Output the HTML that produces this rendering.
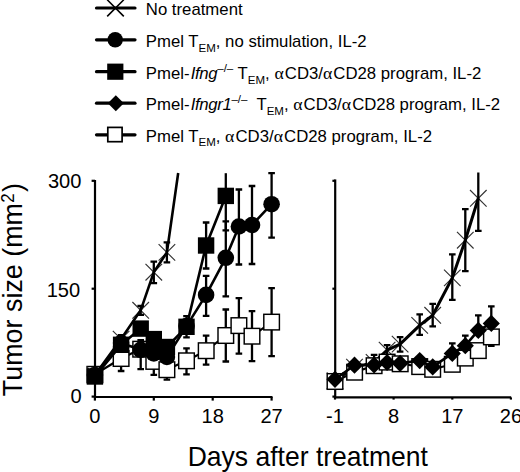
<!DOCTYPE html>
<html><head><meta charset="utf-8"><style>
html,body{margin:0;padding:0;background:#fff;width:520px;height:472px;overflow:hidden}
svg{display:block}
text{font-family:"Liberation Sans",sans-serif;fill:#000}
</style></head><body>
<svg width="520" height="472" viewBox="0 0 520 472">
<path d="M95 180V397.5" stroke="#000" stroke-width="2.2" fill="none"/>
<path d="M91.6 180.8H95" stroke="#000" stroke-width="2.2" fill="none"/>
<path d="M91.6 288.7H95" stroke="#000" stroke-width="2.2" fill="none"/>
<path d="M91.6 396.6H95" stroke="#000" stroke-width="2.2" fill="none"/>
<path d="M94 397H272.5" stroke="#000" stroke-width="2.2" fill="none"/>
<path d="M94.9 397V400.6" stroke="#000" stroke-width="2.2" fill="none"/>
<path d="M153.8 397V400.6" stroke="#000" stroke-width="2.2" fill="none"/>
<path d="M212.7 397V400.6" stroke="#000" stroke-width="2.2" fill="none"/>
<path d="M271.6 397V400.6" stroke="#000" stroke-width="2.2" fill="none"/>
<path d="M335.2 179.4V398" stroke="#000" stroke-width="2.2" fill="none"/>
<path d="M332.4 180.8H335" stroke="#000" stroke-width="2.2" fill="none"/>
<path d="M332.4 288.7H335" stroke="#000" stroke-width="2.2" fill="none"/>
<path d="M332.4 396.6H335" stroke="#000" stroke-width="2.2" fill="none"/>
<path d="M334.2 397.4H511.2" stroke="#000" stroke-width="2.2" fill="none"/>
<path d="M335.0 397.4V399.6" stroke="#000" stroke-width="2.2" fill="none"/>
<path d="M393.6 397.4V399.6" stroke="#000" stroke-width="2.2" fill="none"/>
<path d="M452.3 397.4V399.6" stroke="#000" stroke-width="2.2" fill="none"/>
<path d="M510.9 397.4V399.6" stroke="#000" stroke-width="2.2" fill="none"/>
<path d="M94.9 374.3L121.1 358.5L140.7 349.1L153.8 361.4L166.9 369.6L186.5 360.8L206.1 350.7L225.8 335.5L238.9 325.6L252.0 336.2L271.6 322.1" stroke="#000" stroke-width="2.2" fill="none" stroke-linejoin="round"/>

<path d="M121.1 358.5V371.0M117.8 371.0H124.4" stroke="#000" stroke-width="2.3" fill="none"/>
<path d="M140.7 349.1V340.1M137.4 340.1H144.0" stroke="#000" stroke-width="2.3" fill="none"/><path d="M140.7 349.1V369.1M137.4 369.1H144.0" stroke="#000" stroke-width="2.3" fill="none"/>
<path d="M153.8 361.4V374.9M150.5 374.9H157.1" stroke="#000" stroke-width="2.3" fill="none"/>
<path d="M166.9 369.6V379.6M163.6 379.6H170.2" stroke="#000" stroke-width="2.3" fill="none"/>
<path d="M186.5 360.8V348.3M183.2 348.3H189.8" stroke="#000" stroke-width="2.3" fill="none"/><path d="M186.5 360.8V374.3M183.2 374.3H189.8" stroke="#000" stroke-width="2.3" fill="none"/>
<path d="M206.1 350.7V335.7M202.8 335.7H209.4" stroke="#000" stroke-width="2.3" fill="none"/><path d="M206.1 350.7V364.7M202.8 364.7H209.4" stroke="#000" stroke-width="2.3" fill="none"/>
<path d="M225.8 335.5V309.5M222.5 309.5H229.1" stroke="#000" stroke-width="2.3" fill="none"/><path d="M225.8 335.5V361.5M222.5 361.5H229.1" stroke="#000" stroke-width="2.3" fill="none"/>
<path d="M238.9 325.6V298.1M235.6 298.1H242.2" stroke="#000" stroke-width="2.3" fill="none"/><path d="M238.9 325.6V353.6M235.6 353.6H242.2" stroke="#000" stroke-width="2.3" fill="none"/>
<path d="M252.0 336.2V311.2M248.7 311.2H255.3" stroke="#000" stroke-width="2.3" fill="none"/><path d="M252.0 336.2V361.2M248.7 361.2H255.3" stroke="#000" stroke-width="2.3" fill="none"/>
<path d="M271.6 322.1V288.1M268.3 288.1H274.9" stroke="#000" stroke-width="2.3" fill="none"/><path d="M271.6 322.1V356.1M268.3 356.1H274.9" stroke="#000" stroke-width="2.3" fill="none"/>
<rect x="87.1" y="366.5" width="15.6" height="15.6" fill="#fff" stroke="#000" stroke-width="1.45"/>
<rect x="113.3" y="350.7" width="15.6" height="15.6" fill="#fff" stroke="#000" stroke-width="1.45"/>
<rect x="132.9" y="341.4" width="15.6" height="15.6" fill="#fff" stroke="#000" stroke-width="1.45"/>
<rect x="146.0" y="353.6" width="15.6" height="15.6" fill="#fff" stroke="#000" stroke-width="1.45"/>
<rect x="159.1" y="361.9" width="15.6" height="15.6" fill="#fff" stroke="#000" stroke-width="1.45"/>
<rect x="178.7" y="353.0" width="15.6" height="15.6" fill="#fff" stroke="#000" stroke-width="1.45"/>
<rect x="198.4" y="342.9" width="15.6" height="15.6" fill="#fff" stroke="#000" stroke-width="1.45"/>
<rect x="218.0" y="327.7" width="15.6" height="15.6" fill="#fff" stroke="#000" stroke-width="1.45"/>
<rect x="231.1" y="317.8" width="15.6" height="15.6" fill="#fff" stroke="#000" stroke-width="1.45"/>
<rect x="244.2" y="328.4" width="15.6" height="15.6" fill="#fff" stroke="#000" stroke-width="1.45"/>
<rect x="263.8" y="314.3" width="15.6" height="15.6" fill="#fff" stroke="#000" stroke-width="1.45"/>
<path d="M86.6 366.7L103.2 383.3M103.2 366.7L86.6 383.3" stroke="#333" stroke-width="1.15" fill="none"/>
<path d="M112.8 330.8L129.4 347.4M129.4 330.8L112.8 347.4" stroke="#333" stroke-width="1.15" fill="none"/>
<path d="M132.4 302.0L149.0 318.6M149.0 302.0L132.4 318.6" stroke="#333" stroke-width="1.15" fill="none"/>
<path d="M145.5 263.9L162.1 280.5M162.1 263.9L145.5 280.5" stroke="#333" stroke-width="1.15" fill="none"/>
<path d="M158.6 244.1L175.2 260.7M175.2 244.1L158.6 260.7" stroke="#333" stroke-width="1.15" fill="none"/>
<path d="M94.9 375.0L121.1 339.1L140.7 310.3L153.8 272.2L166.9 252.4L178.2 173.0" stroke="#000" stroke-width="2.6" fill="none" stroke-linejoin="round"/>

<path d="M121.1 339.1V335.1M117.8 335.1H124.4" stroke="#000" stroke-width="2.3" fill="none"/><path d="M121.1 339.1V343.1M117.8 343.1H124.4" stroke="#000" stroke-width="2.3" fill="none"/>
<path d="M140.7 310.3V305.8M137.4 305.8H144.0" stroke="#000" stroke-width="2.3" fill="none"/><path d="M140.7 310.3V314.8M137.4 314.8H144.0" stroke="#000" stroke-width="2.3" fill="none"/>
<path d="M153.8 272.2V261.7M150.5 261.7H157.1" stroke="#000" stroke-width="2.3" fill="none"/><path d="M153.8 272.2V283.2M150.5 283.2H157.1" stroke="#000" stroke-width="2.3" fill="none"/>
<path d="M166.9 252.4V242.4M163.6 242.4H170.2" stroke="#000" stroke-width="2.3" fill="none"/><path d="M166.9 252.4V262.4M163.6 262.4H170.2" stroke="#000" stroke-width="2.3" fill="none"/>
<path d="M94.9 375.0L121.1 343.0L140.7 349.8L153.8 353.4L166.9 357.0L186.5 326.1L206.1 294.9L225.8 257.8L238.9 226.5L252.0 225.0L271.6 204.2" stroke="#000" stroke-width="2.6" fill="none" stroke-linejoin="round"/>






<path d="M206.1 294.9V275.9M202.8 275.9H209.4" stroke="#000" stroke-width="2.3" fill="none"/><path d="M206.1 294.9V315.9M202.8 315.9H209.4" stroke="#000" stroke-width="2.3" fill="none"/>
<path d="M225.8 257.8V221.3M222.5 221.3H229.1" stroke="#000" stroke-width="2.3" fill="none"/><path d="M225.8 257.8V296.3M222.5 296.3H229.1" stroke="#000" stroke-width="2.3" fill="none"/>
<path d="M238.9 226.5V189.5M235.6 189.5H242.2" stroke="#000" stroke-width="2.3" fill="none"/><path d="M238.9 226.5V264.5M235.6 264.5H242.2" stroke="#000" stroke-width="2.3" fill="none"/>
<path d="M252.0 225.0V186.0M248.7 186.0H255.3" stroke="#000" stroke-width="2.3" fill="none"/><path d="M252.0 225.0V264.0M248.7 264.0H255.3" stroke="#000" stroke-width="2.3" fill="none"/>
<path d="M271.6 204.2V173.2M268.3 173.2H274.9" stroke="#000" stroke-width="2.3" fill="none"/><path d="M271.6 204.2V237.6M268.3 237.6H274.9" stroke="#000" stroke-width="2.3" fill="none"/>
<circle cx="94.9" cy="375.0" r="8.3" fill="#000"/>
<circle cx="121.1" cy="343.0" r="8.3" fill="#000"/>
<circle cx="140.7" cy="349.8" r="8.3" fill="#000"/>
<circle cx="153.8" cy="353.4" r="8.3" fill="#000"/>
<circle cx="166.9" cy="357.0" r="8.3" fill="#000"/>
<circle cx="186.5" cy="326.1" r="8.3" fill="#000"/>
<circle cx="206.1" cy="294.9" r="8.3" fill="#000"/>
<circle cx="225.8" cy="257.8" r="8.3" fill="#000"/>
<circle cx="238.9" cy="226.5" r="8.3" fill="#000"/>
<circle cx="252.0" cy="225.0" r="8.3" fill="#000"/>
<circle cx="271.6" cy="204.2" r="8.3" fill="#000"/>
<path d="M94.9 376.5L121.1 344.8L140.7 328.6L153.8 339.1L166.9 347.0L186.5 326.8L206.1 245.5L225.8 195.9" stroke="#000" stroke-width="2.6" fill="none" stroke-linejoin="round"/>





<path d="M186.5 326.8V316.2M183.2 316.2H189.8" stroke="#000" stroke-width="2.3" fill="none"/><path d="M186.5 326.8V337.4M183.2 337.4H189.8" stroke="#000" stroke-width="2.3" fill="none"/>
<path d="M206.1 245.5V222.5M202.8 222.5H209.4" stroke="#000" stroke-width="2.3" fill="none"/><path d="M206.1 245.5V268.5M202.8 268.5H209.4" stroke="#000" stroke-width="2.3" fill="none"/>
<path d="M225.8 195.9V173.2" stroke="#000" stroke-width="2.3" fill="none"/><path d="M225.8 195.9V230.4M222.5 230.4H229.1" stroke="#000" stroke-width="2.3" fill="none"/>
<rect x="86.7" y="368.3" width="16.4" height="16.4" fill="#000"/>
<rect x="112.9" y="336.6" width="16.4" height="16.4" fill="#000"/>
<rect x="132.5" y="320.4" width="16.4" height="16.4" fill="#000"/>
<rect x="145.6" y="330.9" width="16.4" height="16.4" fill="#000"/>
<rect x="158.7" y="338.8" width="16.4" height="16.4" fill="#000"/>
<rect x="178.3" y="318.6" width="16.4" height="16.4" fill="#000"/>
<rect x="197.9" y="237.3" width="16.4" height="16.4" fill="#000"/>
<rect x="217.6" y="187.7" width="16.4" height="16.4" fill="#000"/>
<path d="M326.7 372.5L343.3 389.1M343.3 372.5L326.7 389.1" stroke="#333" stroke-width="1.15" fill="none"/>
<path d="M346.2 358.8L362.8 375.4M362.8 358.8L346.2 375.4" stroke="#333" stroke-width="1.15" fill="none"/>
<path d="M365.8 354.1L382.4 370.7M382.4 354.1L365.8 370.7" stroke="#333" stroke-width="1.15" fill="none"/>
<path d="M378.8 341.8L395.4 358.4M395.4 341.8L378.8 358.4" stroke="#333" stroke-width="1.15" fill="none"/>
<path d="M391.8 335.8L408.4 352.4M408.4 335.8L391.8 352.4" stroke="#333" stroke-width="1.15" fill="none"/>
<path d="M411.4 317.1L428.0 333.7M428.0 317.1L411.4 333.7" stroke="#333" stroke-width="1.15" fill="none"/>
<path d="M424.4 307.0L441.0 323.6M441.0 307.0L424.4 323.6" stroke="#333" stroke-width="1.15" fill="none"/>
<path d="M444.0 269.6L460.6 286.2M460.6 269.6L444.0 286.2" stroke="#333" stroke-width="1.15" fill="none"/>
<path d="M457.0 231.9L473.6 248.5M473.6 231.9L457.0 248.5" stroke="#333" stroke-width="1.15" fill="none"/>
<path d="M470.0 190.0L486.6 206.6M486.6 190.0L470.0 206.6" stroke="#333" stroke-width="1.15" fill="none"/>
<path d="M335.0 380.8L354.5 367.1L374.1 362.4L387.1 350.1L400.1 344.1L419.7 325.4L432.7 315.3L452.3 277.9L465.3 240.2L478.3 198.3" stroke="#000" stroke-width="3.0" fill="none" stroke-linejoin="round"/>


<path d="M374.1 362.4V354.9M370.8 354.9H377.4" stroke="#000" stroke-width="2.3" fill="none"/>
<path d="M387.1 350.1V345.1M383.8 345.1H390.4" stroke="#000" stroke-width="2.3" fill="none"/><path d="M387.1 350.1V355.1M383.8 355.1H390.4" stroke="#000" stroke-width="2.3" fill="none"/>
<path d="M400.1 344.1V337.1M396.8 337.1H403.4" stroke="#000" stroke-width="2.3" fill="none"/><path d="M400.1 344.1V351.6M396.8 351.6H403.4" stroke="#000" stroke-width="2.3" fill="none"/>
<path d="M419.7 325.4V314.4M416.4 314.4H423.0" stroke="#000" stroke-width="2.3" fill="none"/><path d="M419.7 325.4V334.9M416.4 334.9H423.0" stroke="#000" stroke-width="2.3" fill="none"/>
<path d="M432.7 315.3V303.8M429.4 303.8H436.0" stroke="#000" stroke-width="2.3" fill="none"/><path d="M432.7 315.3V326.3M429.4 326.3H436.0" stroke="#000" stroke-width="2.3" fill="none"/>
<path d="M452.3 277.9V254.4M449.0 254.4H455.6" stroke="#000" stroke-width="2.3" fill="none"/><path d="M452.3 277.9V299.9M449.0 299.9H455.6" stroke="#000" stroke-width="2.3" fill="none"/>
<path d="M465.3 240.2V209.2M462.0 209.2H468.6" stroke="#000" stroke-width="2.3" fill="none"/><path d="M465.3 240.2V271.2M462.0 271.2H468.6" stroke="#000" stroke-width="2.3" fill="none"/>
<path d="M478.3 198.3V172.5" stroke="#000" stroke-width="2.3" fill="none"/><path d="M478.3 198.3V230.9M475.0 230.9H481.6" stroke="#000" stroke-width="2.3" fill="none"/>
<path d="M335.0 381.5L354.5 372.1L374.1 365.7L387.1 362.1L400.1 363.7L419.7 366.5L432.7 369.3L452.3 364.2L465.3 358.1L478.3 350.6L491.3 336.9" stroke="#000" stroke-width="2.2" fill="none" stroke-linejoin="round"/>










<path d="M491.3 336.9V345.9M488.0 345.9H494.6" stroke="#000" stroke-width="2.3" fill="none"/>
<rect x="327.2" y="373.7" width="15.6" height="15.6" fill="#fff" stroke="#000" stroke-width="1.45"/>
<rect x="346.8" y="364.4" width="15.6" height="15.6" fill="#fff" stroke="#000" stroke-width="1.45"/>
<rect x="366.3" y="357.9" width="15.6" height="15.6" fill="#fff" stroke="#000" stroke-width="1.45"/>
<rect x="379.3" y="354.3" width="15.6" height="15.6" fill="#fff" stroke="#000" stroke-width="1.45"/>
<rect x="392.4" y="356.0" width="15.6" height="15.6" fill="#fff" stroke="#000" stroke-width="1.45"/>
<rect x="411.9" y="358.8" width="15.6" height="15.6" fill="#fff" stroke="#000" stroke-width="1.45"/>
<rect x="424.9" y="361.5" width="15.6" height="15.6" fill="#fff" stroke="#000" stroke-width="1.45"/>
<rect x="444.5" y="356.5" width="15.6" height="15.6" fill="#fff" stroke="#000" stroke-width="1.45"/>
<rect x="457.5" y="350.3" width="15.6" height="15.6" fill="#fff" stroke="#000" stroke-width="1.45"/>
<rect x="470.5" y="342.8" width="15.6" height="15.6" fill="#fff" stroke="#000" stroke-width="1.45"/>
<rect x="483.6" y="329.1" width="15.6" height="15.6" fill="#fff" stroke="#000" stroke-width="1.45"/>
<path d="M335.0 379.3L354.5 365.2L374.1 365.0L387.1 362.5L400.1 363.3L419.7 360.6L432.7 366.9L452.3 353.4L465.3 345.7L478.3 330.4L491.3 323.4" stroke="#000" stroke-width="2.6" fill="none" stroke-linejoin="round"/>







<path d="M452.3 353.4V343.4M449.0 343.4H455.6" stroke="#000" stroke-width="2.3" fill="none"/>
<path d="M465.3 345.7V335.7M462.0 335.7H468.6" stroke="#000" stroke-width="2.3" fill="none"/>
<path d="M478.3 330.4V315.4M475.0 315.4H481.6" stroke="#000" stroke-width="2.3" fill="none"/>
<path d="M491.3 323.4V306.4M488.0 306.4H494.6" stroke="#000" stroke-width="2.3" fill="none"/>
<path d="M335.0 370.7L343.6 379.3L335.0 387.9L326.4 379.3Z" fill="#000"/>
<path d="M354.5 356.6L363.1 365.2L354.5 373.8L345.9 365.2Z" fill="#000"/>
<path d="M374.1 356.4L382.7 365.0L374.1 373.6L365.5 365.0Z" fill="#000"/>
<path d="M387.1 353.9L395.7 362.5L387.1 371.1L378.5 362.5Z" fill="#000"/>
<path d="M400.1 354.7L408.7 363.3L400.1 371.9L391.5 363.3Z" fill="#000"/>
<path d="M419.7 352.0L428.3 360.6L419.7 369.2L411.1 360.6Z" fill="#000"/>
<path d="M432.7 358.3L441.3 366.9L432.7 375.5L424.1 366.9Z" fill="#000"/>
<path d="M452.3 344.8L460.9 353.4L452.3 362.0L443.7 353.4Z" fill="#000"/>
<path d="M465.3 337.1L473.9 345.7L465.3 354.3L456.7 345.7Z" fill="#000"/>
<path d="M478.3 321.8L486.9 330.4L478.3 339.0L469.7 330.4Z" fill="#000"/>
<path d="M491.3 314.8L499.9 323.4L491.3 332.0L482.7 323.4Z" fill="#000"/>
<path d="M96.5 8.0H135" stroke="#000" stroke-width="3.2" stroke-linecap="round"/>
<path d="M96.5 39.8H135" stroke="#000" stroke-width="3.2" stroke-linecap="round"/>
<path d="M96.5 71.7H135" stroke="#000" stroke-width="3.2" stroke-linecap="round"/>
<path d="M96.5 103.2H135" stroke="#000" stroke-width="3.2" stroke-linecap="round"/>
<path d="M96.5 134.8H135" stroke="#000" stroke-width="3.2" stroke-linecap="round"/>
<path d="M107.2 -0.2L123.8 16.4M123.8 -0.2L107.2 16.4" stroke="#000" stroke-width="1.6" fill="none"/>
<circle cx="115.2" cy="39.7" r="7.7" fill="#000"/>
<rect x="107.2" y="63.6" width="16.2" height="16.2" fill="#000"/>
<path d="M115.8 95.2L123.8 103.2L115.8 111.2L107.8 103.2Z" fill="#000"/>
<rect x="107.8" y="127.4" width="14.3" height="14.3" fill="#fff" stroke="#000" stroke-width="1.7"/>
<g transform="translate(145.8 15.200000000000001) scale(1.047 1)"><text x="0" y="0" font-size="16" font-family="Liberation Sans, sans-serif">No treatment</text></g>
<g transform="translate(145.8 47.099999999999994) scale(1.047 1)"><text x="0" y="0" font-size="16" font-family="Liberation Sans, sans-serif">Pmel T<tspan font-size="11" dy="4.5">EM</tspan><tspan dy="-4.5">​</tspan>, no stimulation, IL-2</text></g>
<g transform="translate(145.8 79.2) scale(1.047 1)"><text x="0" y="0" font-size="16" font-family="Liberation Sans, sans-serif">Pmel-<tspan dx="1.2" font-style="italic" letter-spacing="-0.35">Ifng</tspan><tspan font-size="11" dy="-7.2">–/–</tspan><tspan dy="7.2">​</tspan> T<tspan font-size="11" dy="4.5">EM</tspan><tspan dy="-4.5">​</tspan>, <tspan font-family="Liberation Serif" font-size="17">α</tspan><tspan dx="1.0">​</tspan>CD3/<tspan font-family="Liberation Serif" font-size="17">α</tspan><tspan dx="1.0">​</tspan>CD28 program, IL-2</text></g>
<g transform="translate(145.8 110.39999999999999) scale(1.047 1)"><text x="0" y="0" font-size="16" font-family="Liberation Sans, sans-serif">Pmel-<tspan dx="1.2" font-style="italic" letter-spacing="-0.35">Ifngr1</tspan><tspan font-size="11" dy="-7.2">–/–</tspan><tspan dy="7.2">​</tspan>  T<tspan font-size="11" dy="4.5">EM</tspan><tspan dy="-4.5">​</tspan>, <tspan font-family="Liberation Serif" font-size="17">α</tspan><tspan dx="1.0">​</tspan>CD3/<tspan font-family="Liberation Serif" font-size="17">α</tspan><tspan dx="1.0">​</tspan>CD28 program, IL-2</text></g>
<g transform="translate(145.8 141.8) scale(1.047 1)"><text x="0" y="0" font-size="16" font-family="Liberation Sans, sans-serif">Pmel T<tspan font-size="11" dy="4.5">EM</tspan><tspan dy="-4.5">​</tspan>, <tspan font-family="Liberation Serif" font-size="17">α</tspan><tspan dx="1.0">​</tspan>CD3/<tspan font-family="Liberation Serif" font-size="17">α</tspan><tspan dx="1.0">​</tspan>CD28 program, IL-2</text></g>
<g transform="translate(81.4 188.4) scale(1.03 1)"><text x="0" y="0" text-anchor="end" font-size="19.5" font-family="Liberation Sans, sans-serif">300</text></g>
<g transform="translate(80.2 297.0) scale(1.03 1)"><text x="0" y="0" text-anchor="end" font-size="19.5" font-family="Liberation Sans, sans-serif">150</text></g>
<g transform="translate(81.8 402.8) scale(1.03 1)"><text x="0" y="0" text-anchor="end" font-size="19.5" font-family="Liberation Sans, sans-serif">0</text></g>
<g transform="translate(94.9 422.9) scale(1.03 1)"><text x="0" y="0" text-anchor="middle" font-size="19.5" font-family="Liberation Sans, sans-serif">0</text></g>
<g transform="translate(153.8 422.9) scale(1.03 1)"><text x="0" y="0" text-anchor="middle" font-size="19.5" font-family="Liberation Sans, sans-serif">9</text></g>
<g transform="translate(212.7 422.9) scale(1.03 1)"><text x="0" y="0" text-anchor="middle" font-size="19.5" font-family="Liberation Sans, sans-serif">18</text></g>
<g transform="translate(271.6 422.9) scale(1.03 1)"><text x="0" y="0" text-anchor="middle" font-size="19.5" font-family="Liberation Sans, sans-serif">27</text></g>
<g transform="translate(335.0 422.9) scale(1.03 1)"><text x="0" y="0" text-anchor="middle" font-size="19.5" font-family="Liberation Sans, sans-serif">-1</text></g>
<g transform="translate(393.6 422.9) scale(1.03 1)"><text x="0" y="0" text-anchor="middle" font-size="19.5" font-family="Liberation Sans, sans-serif">8</text></g>
<g transform="translate(452.3 422.9) scale(1.03 1)"><text x="0" y="0" text-anchor="middle" font-size="19.5" font-family="Liberation Sans, sans-serif">17</text></g>
<g transform="translate(510.9 422.9) scale(1.03 1)"><text x="0" y="0" text-anchor="middle" font-size="19.5" font-family="Liberation Sans, sans-serif">26</text></g>
<g transform="translate(307.8 466.2) scale(0.975 1)"><text x="0" y="0" text-anchor="middle" font-size="27.2" font-family="Liberation Sans, sans-serif">Days after treatment</text></g>
<g transform="translate(21.6 396.2) rotate(-90) scale(1 1.03)"><text x="0" y="0" font-size="26.9" font-family="Liberation Sans, sans-serif">Tumor size (mm<tspan font-size="17" dx="0.2" dy="-7.8">2</tspan><tspan dx="1.4" dy="7.8">)</tspan></text></g>
</svg>
</body></html>
